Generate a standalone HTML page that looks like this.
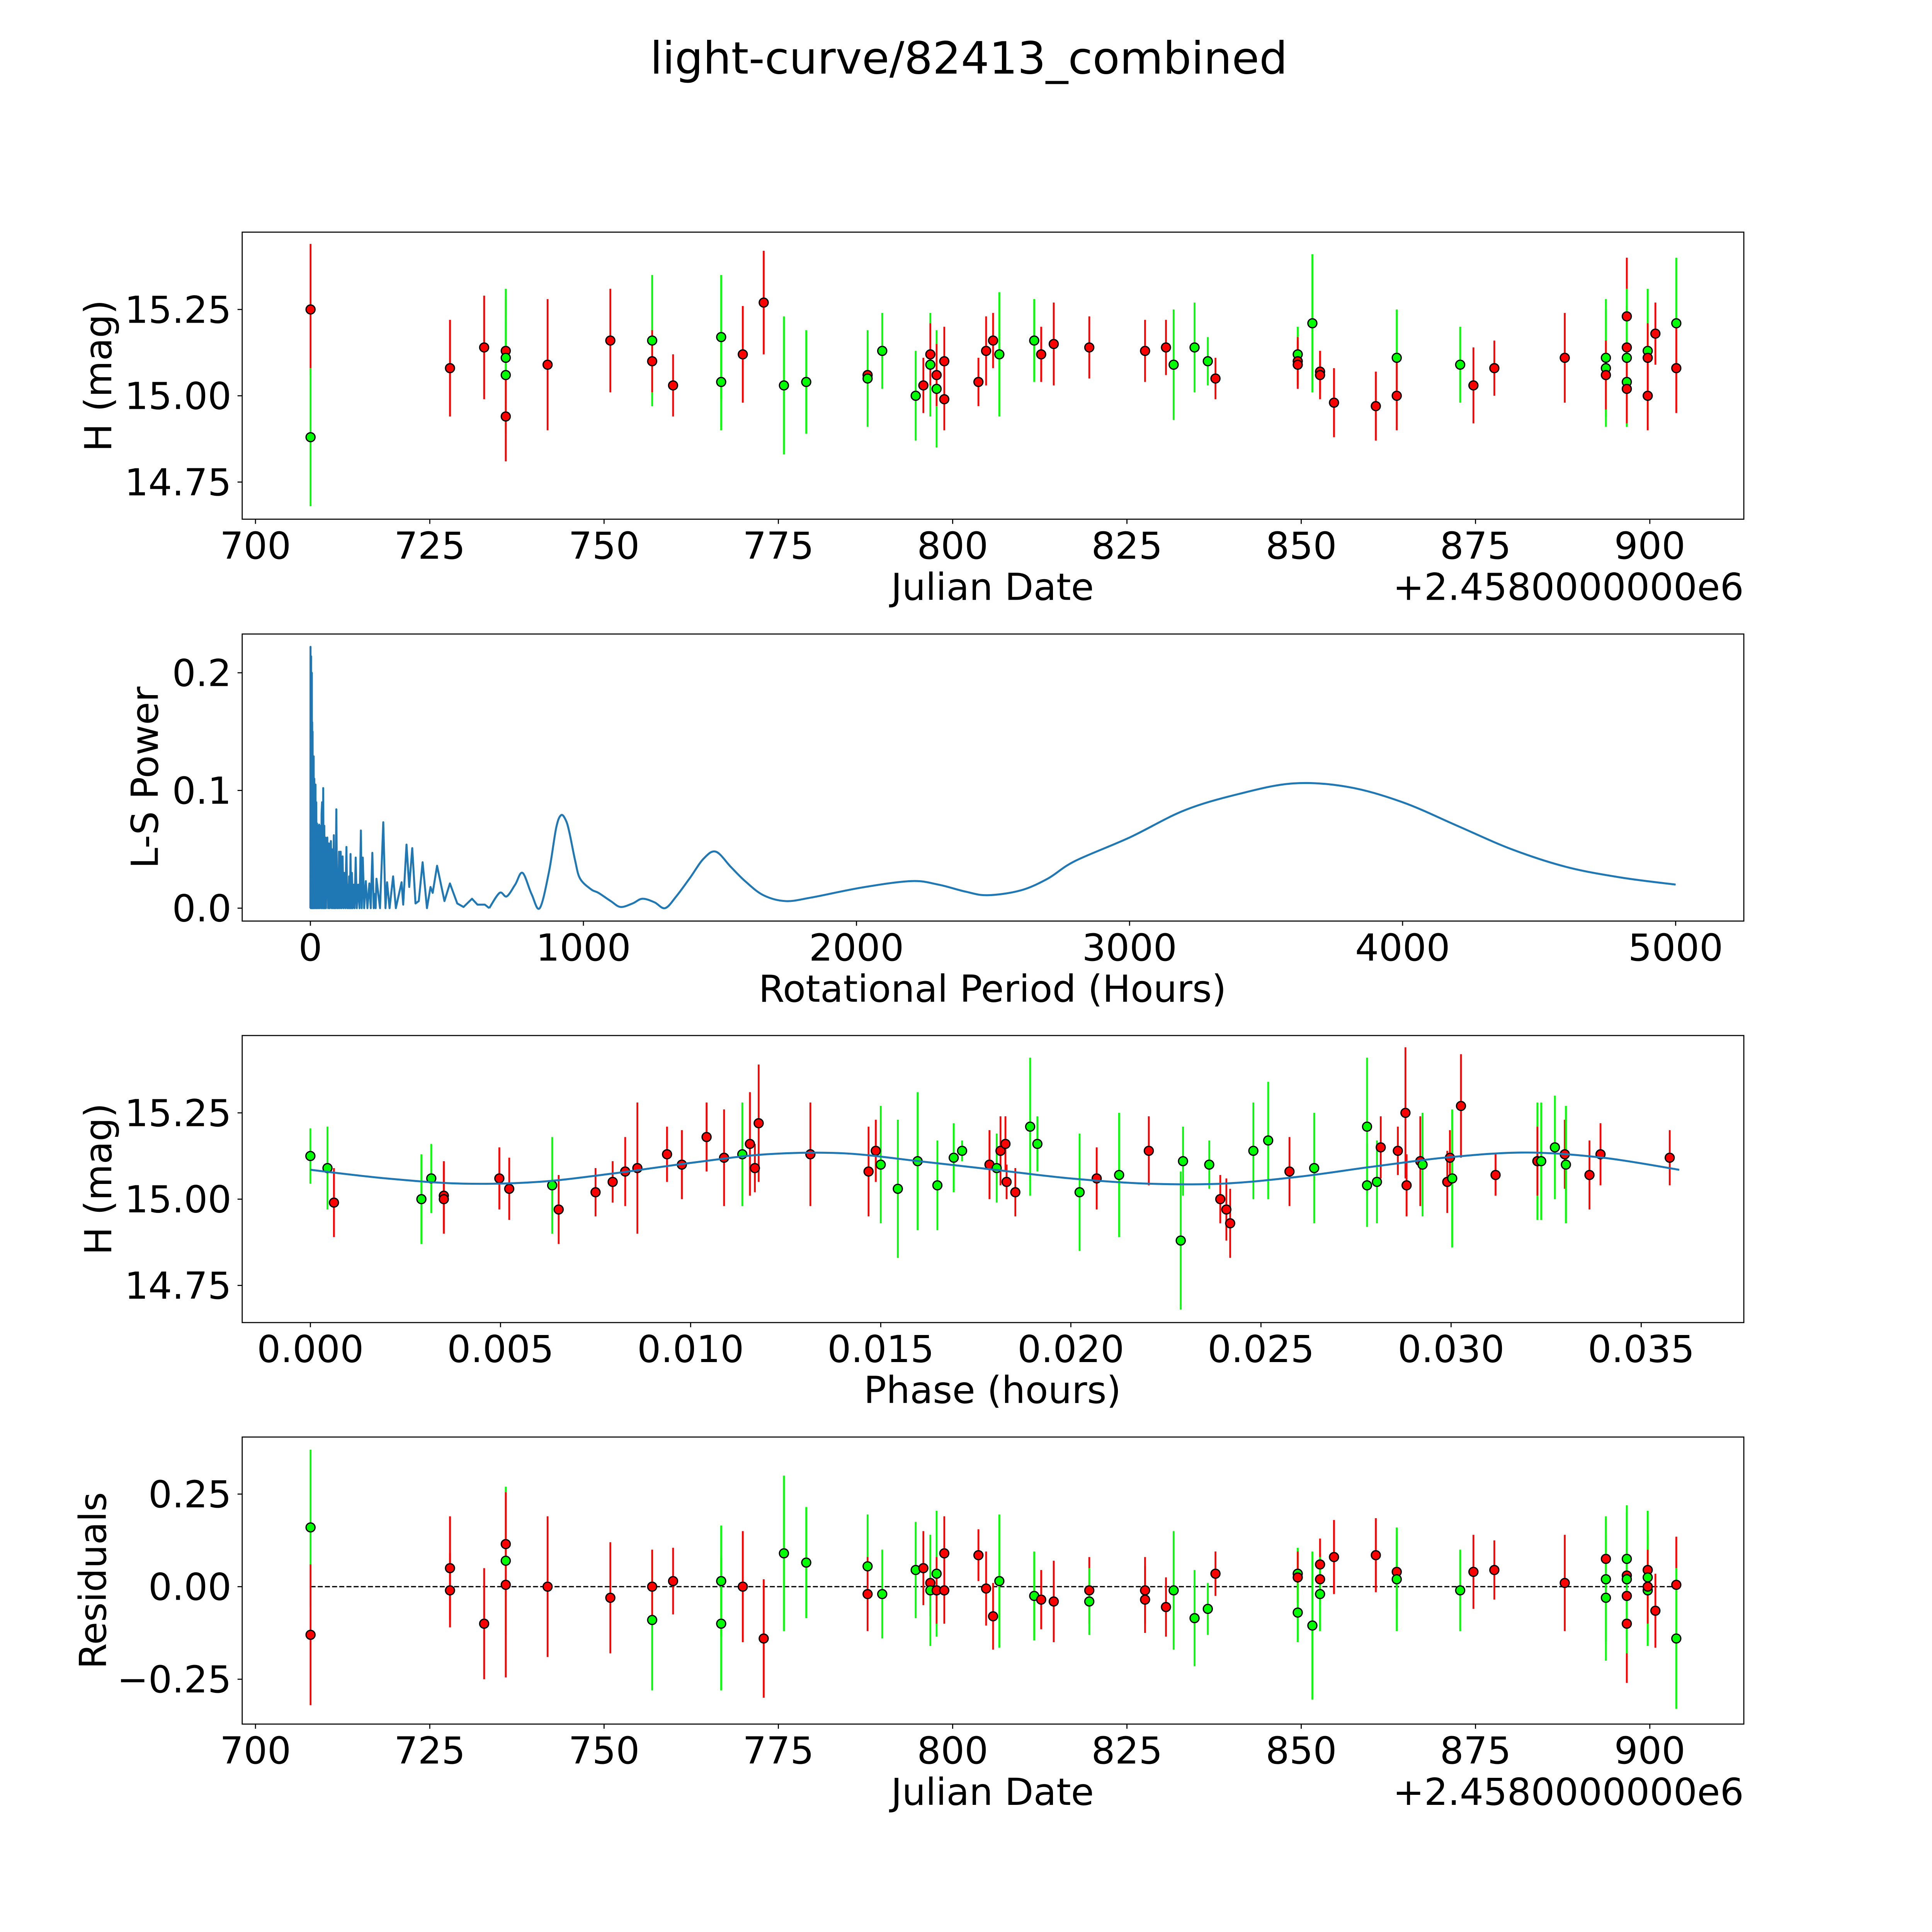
<!DOCTYPE html>
<html><head><meta charset="utf-8">
<style>
html,body{margin:0;padding:0;background:#fff;overflow:hidden;}
svg{display:block;}
text{font-family:"DejaVu Sans","Liberation Sans",sans-serif;fill:#000;}
</style></head>
<body>
<svg id="fig" width="5400" height="5400" viewBox="0 0 5400 5400" xmlns="http://www.w3.org/2000/svg">
<rect width="5400" height="5400" fill="#fff"/>
<g id="root" transform="scale(0.9286)">
<text x="2700" y="205" font-size="124" text-anchor="middle">light-curve/82413_combined</text>
</g>
</svg>
<script>
// ---- Panel 1: light curve (date, mag, err, band)
const lcDate=[707.9,707.9,727.9,732.8,735.9,735.9,735.9,735.9,741.9,750.9,756.9,756.9,759.9,766.8,766.8,769.9,772.9,775.8,779.0,787.8,787.8,789.9,794.7,795.8,796.8,796.8,797.7,797.7,798.8,798.8,803.7,804.8,805.8,806.7,811.7,812.7,814.5,819.6,827.6,830.6,831.7,834.7,836.6,837.7,849.5,849.5,849.5,851.6,852.7,852.7,854.7,860.7,863.7,863.7,872.8,874.7,877.7,887.8,893.7,893.7,893.7,896.7,896.7,896.7,896.7,896.7,899.7,899.7,899.7,900.8,903.8,903.8];
const lcMag=[15.25,14.88,15.08,15.14,15.13,15.11,15.06,14.94,15.09,15.16,15.16,15.10,15.03,15.17,15.04,15.12,15.27,15.03,15.04,15.06,15.05,15.13,15.00,15.03,15.09,15.12,15.02,15.06,15.10,14.99,15.04,15.13,15.16,15.12,15.16,15.12,15.15,15.14,15.13,15.14,15.09,15.14,15.10,15.05,15.12,15.10,15.09,15.21,15.07,15.06,14.98,14.97,15.11,15.00,15.09,15.03,15.08,15.11,15.11,15.08,15.06,15.23,15.14,15.11,15.04,15.02,15.13,15.11,15.00,15.18,15.21,15.08];
const lcErr=[0.19,0.2,0.14,0.15,0.15,0.2,0.17,0.13,0.19,0.15,0.19,0.09,0.09,0.18,0.14,0.14,0.15,0.2,0.15,0.1,0.14,0.11,0.13,0.08,0.15,0.09,0.17,0.09,0.1,0.09,0.07,0.1,0.08,0.18,0.12,0.08,0.12,0.09,0.09,0.08,0.16,0.13,0.07,0.06,0.08,0.07,0.07,0.2,0.06,0.07,0.1,0.1,0.14,0.1,0.11,0.11,0.08,0.13,0.17,0.17,0.1,0.17,0.12,0.2,0.13,0.1,0.18,0.1,0.1,0.09,0.19,0.13];
const lcBand=['r','g','r','r','r','g','g','r','r','r','g','r','r','g','g','r','r','g','g','r','g','g','g','r','g','r','g','r','r','r','r','r','r','g','g','r','r','r','r','r','g','g','g','r','g','r','r','g','r','r','r','r','g','r','g','r','r','r','g','g','r','r','r','g','g','r','g','r','r','r','g','r'];

// ---- Panel 2: Lomb-Scargle periodogram
const lsPeriod=[0,0.5,1.5,2.7,3.5,5.4,6,6.7,7.4,8.1,9,10,11,12.1,13,14.5,16,17.5,18.8,20,21.5,23,24.2,26,28,30,32.2,34,36,38.9,40,41,43,45,47,49,51,53,55,57,59,62,65,68,71,75,78,80,83,86,88,90,92,95,98,100,102,105,108,111,114,118,121,124,128,132,135,137,140,142,145,147,150,152,155,159,162,166,170,175,180,185,188,192,197,203,209,216,221,227,232,236,239,242,255,267,275,281,290,303,313,334,340,352,362,373,385,397,411,427,440,448,464,491,511,538,561,592,612,639,655,693,719,750,777,810,840,874,900,918,935,948,970,988,1028,1055,1100,1136,1180,1216,1260,1299,1340,1391,1440,1485,1540,1592,1659,1740,1834,2019,2200,2300,2400,2480,2600,2700,2800,3000,3200,3400,3600,3800,4000,4200,4400,4600,4800,5000];
const lsPower=[0,0.222,0,0.214,0,0.20,0,0.158,0,0.15,0,0.12,0,0.129,0,0.11,0,0.1,0.105,0,0.09,0,0.072,0,0.07,0,0.071,0,0.065,0.07,0,0.08,0.09,0,0.102,0,0.07,0,0.06,0,0.05,0.06,0,0.055,0,0.057,0,0.05,0,0.062,0,0.045,0,0.084,0,0.03,0,0.048,0,0.048,0,0.044,0,0.03,0,0.052,0,0.02,0,0.027,0,0.046,0,0.03,0,0.02,0,0.043,0,0.02,0,0.066,0,0.043,0,0.023,0,0.021,0,0.047,0,0.012,0,0.025,0,0.073,0,0.022,0,0.027,0,0.022,0.003,0.054,0.018,0.051,0.004,0.006,0.039,0,0.018,0.013,0.036,0.006,0.021,0.004,0.001,0.008,0.003,0.003,0,0.013,0.010,0.02,0.030,0.012,0,0.031,0.068,0.079,0.075,0.065,0.04,0.025,0.016,0.013,0.006,0.001,0.004,0.008,0.005,0,0.01,0.026,0.042,0.048,0.035,0.023,0.011,0.006,0.009,0.0175,0.023,0.02,0.014,0.011,0.015,0.025,0.04,0.06,0.083,0.097,0.106,0.103,0.09,0.07,0.05,0.035,0.026,0.02];
const lsXTicks=[0,1000,2000,3000,4000,5000];
const lsYTicks=[0.0,0.1,0.2];

// ---- Panel 3: folded phase
const phPhase=[0,0.00045,0.00062,0.00292,0.00318,0.00351,0.00351,0.00497,0.00523,0.00636,0.00653,0.0075,0.00795,0.00828,0.0086,0.00938,0.00977,0.01042,0.01088,0.01136,0.01156,0.01169,0.01179,0.01315,0.01468,0.01487,0.015,0.01545,0.01597,0.01649,0.01692,0.01714,0.01786,0.01805,0.01815,0.01828,0.01831,0.01854,0.01893,0.01912,0.02023,0.02068,0.02127,0.02205,0.02289,0.02295,0.02364,0.02393,0.02409,0.02419,0.0248,0.02519,0.02575,0.0264,0.02779,0.02779,0.02805,0.02815,0.0286,0.0288,0.02883,0.02919,0.02925,0.0299,0.02997,0.03003,0.03026,0.03117,0.03227,0.03227,0.03237,0.03273,0.03299,0.03302,0.03364,0.03393,0.03575];
const phMag=[15.125,15.09,14.99,15.00,15.06,15.01,15.00,15.06,15.03,15.04,14.97,15.02,15.05,15.08,15.09,15.13,15.10,15.18,15.12,15.13,15.16,15.09,15.22,15.13,15.08,15.14,15.10,15.03,15.11,15.04,15.12,15.14,15.10,15.09,15.14,15.16,15.05,15.02,15.21,15.16,15.02,15.06,15.07,15.14,14.88,15.11,15.10,15.00,14.97,14.93,15.14,15.17,15.08,15.09,15.21,15.04,15.05,15.15,15.14,15.25,15.04,15.11,15.10,15.05,15.12,15.06,15.27,15.07,15.11,15.11,15.11,15.15,15.13,15.10,15.07,15.13,15.12];
const phErr=[0.08,0.12,0.1,0.13,0.1,0.1,0.1,0.09,0.09,0.14,0.1,0.07,0.06,0.1,0.19,0.08,0.1,0.1,0.14,0.15,0.15,0.07,0.17,0.15,0.13,0.09,0.17,0.2,0.2,0.13,0.1,0.03,0.1,0.1,0.1,0.08,0.05,0.07,0.2,0.08,0.17,0.09,0.18,0.1,0.2,0.1,0.07,0.07,0.09,0.1,0.14,0.17,0.1,0.16,0.2,0.12,0.12,0.09,0.07,0.19,0.09,0.13,0.15,0.09,0.08,0.2,0.15,0.06,0.17,0.1,0.17,0.15,0.1,0.17,0.1,0.09,0.08];
const phBand=['g','g','r','g','g','r','r','r','r','g','r','r','r','r','r','r','r','r','r','g','r','r','r','r','r','r','g','g','g','g','g','g','r','g','r','r','r','r','g','g','g','r','g','r','g','g','g','r','r','r','g','g','r','g','g','g','g','r','r','r','r','r','g','r','r','g','r','r','g','r','g','g','r','g','r','r','r'];
const modelPhase=[0,0.002,0.004,0.006,0.008,0.010,0.012,0.014,0.016,0.018,0.020,0.022,0.024,0.026,0.028,0.030,0.032,0.034,0.036];
const modelMag=[15.085,15.06,15.045,15.05,15.075,15.105,15.13,15.133,15.11,15.085,15.06,15.045,15.045,15.065,15.095,15.122,15.135,15.12,15.085];
const phXTicks=[0,0.005,0.010,0.015,0.020,0.025,0.030,0.035];
const magTicks=[14.75,15.00,15.25];

// ---- Panel 4: residuals
const rsDate=[707.9,707.9,727.9,727.9,732.8,735.9,735.9,735.9,741.9,750.9,756.9,756.9,759.9,766.8,766.8,769.9,772.9,775.8,779.0,787.8,787.8,789.9,794.7,795.8,796.8,796.8,797.7,797.7,798.8,798.8,803.7,804.8,805.8,806.7,811.7,812.7,814.5,819.6,819.6,827.6,827.6,830.6,831.7,834.7,836.6,837.7,849.5,849.5,849.5,851.6,852.7,852.7,852.7,854.7,860.7,863.7,863.7,872.8,874.7,877.7,887.8,893.7,893.7,893.7,896.7,896.7,896.7,896.7,896.7,899.7,899.7,899.7,899.7,900.8,903.8,903.8];
const rsVal=[0.16,-0.13,0.05,-0.01,-0.10,0.115,0.07,0.005,0.0,-0.03,-0.09,0.0,0.015,0.015,-0.10,0.0,-0.14,0.09,0.065,0.055,-0.02,-0.02,0.045,0.05,0.01,-0.01,0.035,-0.01,0.09,-0.01,0.085,-0.005,-0.08,0.015,-0.025,-0.035,-0.04,-0.01,-0.04,-0.01,-0.035,-0.055,-0.01,-0.085,-0.06,0.035,0.035,0.025,-0.07,-0.105,0.06,0.02,-0.02,0.08,0.085,0.04,0.02,-0.01,0.04,0.045,0.01,0.075,0.02,-0.03,0.075,0.03,-0.025,-0.10,0.02,0.045,0.025,-0.01,0.0,-0.065,0.005,-0.14];
const rsErr=[0.21,0.19,0.14,0.1,0.15,0.14,0.2,0.25,0.19,0.15,0.19,0.1,0.09,0.15,0.18,0.15,0.16,0.21,0.15,0.14,0.1,0.12,0.13,0.1,0.09,0.15,0.17,0.09,0.1,0.09,0.07,0.1,0.09,0.18,0.12,0.08,0.11,0.09,0.09,0.09,0.09,0.08,0.16,0.13,0.07,0.06,0.07,0.07,0.08,0.2,0.07,0.07,0.1,0.1,0.1,0.1,0.14,0.11,0.1,0.08,0.13,0.11,0.17,0.17,0.13,0.17,0.12,0.16,0.2,0.1,0.18,0.15,0.1,0.1,0.13,0.19];
const rsBand=['g','r','r','r','r','r','g','r','r','r','g','r','r','g','g','r','r','g','g','g','r','g','g','r','r','g','g','r','r','r','r','r','r','g','g','r','r','r','g','r','r','r','g','g','g','r','g','r','g','g','r','r','g','r','r','r','g','g','r','r','r','r','g','g','g','r','r','r','g','r','g','g','r','r','r','g'];
const dateTicks=[700,725,750,775,800,825,850,875,900];
const resTicks=[-0.25,0.00,0.25];

// ---- layout
const NS='http://www.w3.org/2000/svg';
const svg=document.getElementById('fig');
const root=document.getElementById('root');
const X0=675,X1=4860,H=800;
const TOPS=[647,1767,2886,4005];
const xDate=d=>712+(d-700)*(4598-712)/200;
const yMag1=m=>1103-(m-15)*962;
const xPer=p=>865+p*0.761;
const yPow=v=>2531-v*3280;
const xPh=p=>865+p*105971;
const yMag3=m=>yMag1(m)+(2886-647);
const yRes=r=>4422-r*1032;
const COL={r:'#ff0000',g:'#00ff00'};

function mk(tag,attrs,parent){const e=document.createElementNS(NS,tag);for(const k in attrs)e.setAttribute(k,attrs[k]);(parent||root).appendChild(e);return e;}
function txt(s,x,y,size,anchor,parent){const t=mk('text',{x:x,y:y,'font-size':size,'text-anchor':anchor},parent);t.textContent=s;return t;}
function fmtTick(v,dec){let s=v.toFixed(dec);if(v<0)s='\u2212'+s.slice(1);return s;}
function smoothPath(pts){
  let d='M'+pts[0][0].toFixed(1)+','+pts[0][1].toFixed(1);
  for(let i=0;i<pts.length-1;i++){
    const p0=pts[Math.max(0,i-1)],p1=pts[i],p2=pts[i+1],p3=pts[Math.min(pts.length-1,i+2)];
    const c1=[p1[0]+(p2[0]-p0[0])/6,p1[1]+(p2[1]-p0[1])/6],c2=[p2[0]-(p3[0]-p1[0])/6,p2[1]-(p3[1]-p1[1])/6];
    d+='C'+c1.map(v=>v.toFixed(1)).join(',')+' '+c2.map(v=>v.toFixed(1)).join(',')+' '+p2.map(v=>v.toFixed(1)).join(',');
  }
  return d;
}

function frame(name){
  const g=mk('g',{});
  
  
  return g;
}
function border(g,top){
  const r=mk('rect',{x:X0,y:top,width:X1-X0,height:H,fill:'none',stroke:'#000','stroke-width':3},g);
  
  
}
function xTicks(g,top,ticks,fx,dec){
  ticks.forEach(v=>{
    const x=fx(v);
    mk('line',{x1:x,x2:x,y1:top+H,y2:top+H+13,stroke:'#000','stroke-width':3},g);
    const t=txt(fmtTick(v,dec),x,top+H+110,104,'middle',g);
    
    
  });
}
function yTicks(g,ticks,fy,dec){
  ticks.forEach(v=>{
    const y=fy(v);
    mk('line',{x1:X0-13,x2:X0,y1:y,y2:y,stroke:'#000','stroke-width':3},g);
    const t=txt(fmtTick(v,dec),X0-30,y+37,104,'end',g);
    
    
  });
}
function ylab(g,s,x,cy){
  const t=txt(s,0,0,104,'middle',g);
  t.setAttribute('transform','translate('+x+','+cy+') rotate(-90)');
  
  
}
function xlab(g,s,y){
  const t=txt(s,2766,y,104,'middle',g);
  
  
}
function offText(g,y){
  const t=txt('+2.4580000000e6',X1,y,104,'end',g);
  
  
}
function clip(id,top){
  const d=mk('clipPath',{id:id});
  mk('rect',{x:X0,y:top,width:X1-X0,height:H},d);
}
function points(g,xs,ys,es,bs,fx,fy,cid){
  const pg=mk('g',{'clip-path':'url(#'+cid+')'},g);
  for(let i=0;i<xs.length;i++){
    const x=fx(xs[i]);
    const l=mk('line',{x1:x,x2:x,y1:fy(ys[i]-es[i]),y2:fy(ys[i]+es[i]),stroke:COL[bs[i]],'stroke-width':5},pg);
    
    
  }
  for(let i=0;i<xs.length;i++){
    const c=mk('circle',{cx:fx(xs[i]),cy:fy(ys[i]),r:12.5,fill:COL[bs[i]],stroke:'#000','stroke-width':3.5},pg);
    
    
  }
}

// Panel 1
let g=frame('light-curve-panel');
clip('c1',TOPS[0]);
points(g,lcDate,lcMag,lcErr,lcBand,xDate,yMag1,'c1');
border(g,TOPS[0]);
xTicks(g,TOPS[0],dateTicks,xDate,0);
yTicks(g,magTicks,yMag1,2);
ylab(g,'H (mag)',310,1047);
xlab(g,'Julian Date',1672);
offText(g,1672);

// Panel 2
g=frame('periodogram-panel');
clip('c2',TOPS[1]);
let d='';
let split=lsPeriod.findIndex(p=>p>=655);
for(let i=0;i<=split;i++){d+=(i?'L':'M')+xPer(lsPeriod[i]).toFixed(1)+','+yPow(lsPower[i]).toFixed(1);}
const pl=mk('path',{d:d,fill:'none',stroke:'#1f77b4','stroke-width':5.5,'stroke-linejoin':'round','clip-path':'url(#c2)'},g);


const sp=[];for(let i=split;i<lsPeriod.length;i++)sp.push([xPer(lsPeriod[i]),yPow(lsPower[i])]);
const pl2=mk('path',{d:smoothPath(sp),fill:'none',stroke:'#1f77b4','stroke-width':5.5,'clip-path':'url(#c2)'},g);


border(g,TOPS[1]);
xTicks(g,TOPS[1],lsXTicks,xPer,0);
yTicks(g,lsYTicks,yPow,1);
ylab(g,'L-S Power',440,2167);
xlab(g,'Rotational Period (Hours)',2792);

// Panel 3
g=frame('phase-folded-panel');
clip('c3',TOPS[2]);
const mp=modelPhase.map((p,i)=>[xPh(p),yMag3(modelMag[i])]);
points(g,phPhase,phMag,phErr,phBand,xPh,yMag3,'c3');
const ml=mk('path',{d:smoothPath(mp),fill:'none',stroke:'#1f77b4','stroke-width':5.5,'clip-path':'url(#c3)'},g);


border(g,TOPS[2]);
xTicks(g,TOPS[2],phXTicks,xPh,3);
yTicks(g,magTicks,yMag3,2);
ylab(g,'H (mag)',310,3286);
xlab(g,'Phase (hours)',3910);

// Panel 4
g=frame('residuals-panel');
clip('c4',TOPS[3]);
const zl=mk('line',{x1:xDate(lcDate[0]),x2:xDate(lcDate[lcDate.length-1]),y1:yRes(0),y2:yRes(0),stroke:'#000','stroke-width':3.5,'stroke-dasharray':'14,6'},g);


points(g,rsDate,rsVal,rsErr,rsBand,xDate,yRes,'c4');
border(g,TOPS[3]);
xTicks(g,TOPS[3],dateTicks,xDate,0);
yTicks(g,resTicks,yRes,2);
ylab(g,'Residuals',295,4405);
xlab(g,'Julian Date',5030);
offText(g,5030);
</script>
</body></html>
